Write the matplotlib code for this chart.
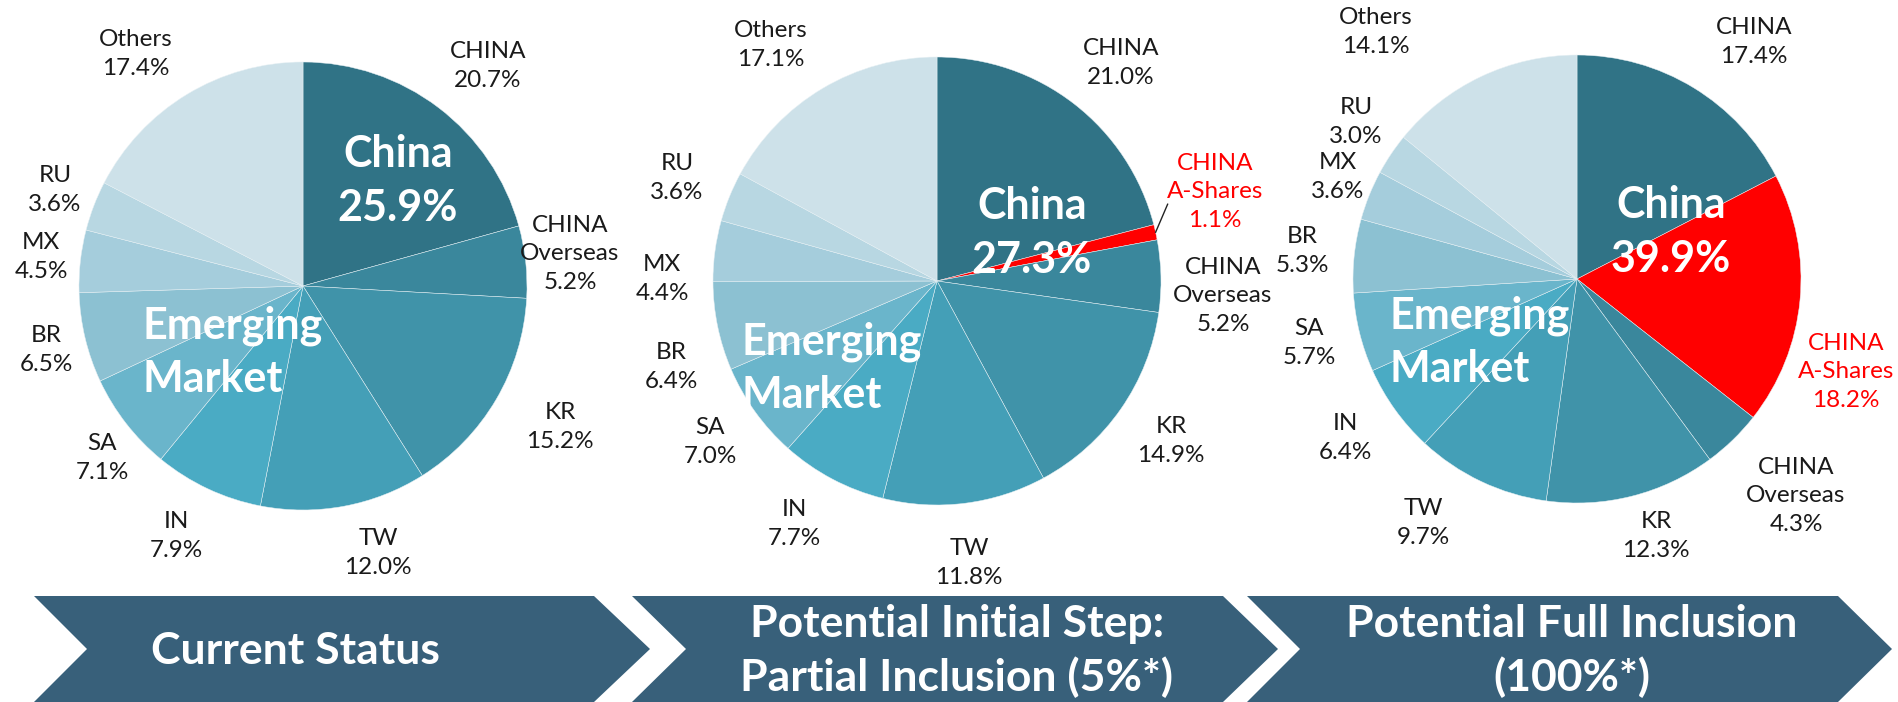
import matplotlib
matplotlib.use("Agg")
import matplotlib.pyplot as plt
from matplotlib.patches import Polygon
import numpy as np

plt.rcParams['font.family'] = ['Lato', 'DejaVu Sans']

W, H = 1899, 702

# ---------------- data ----------------
labels_1 = ["CHINA", "CHINA\nOverseas", "KR", "TW", "IN", "SA", "BR", "MX", "RU", "Others"]
values_1 = [20.7, 5.2, 15.2, 12.0, 7.9, 7.1, 6.5, 4.5, 3.6, 17.4]

labels_2 = ["CHINA", "CHINA\nA-Shares", "CHINA\nOverseas", "KR", "TW", "IN", "SA", "BR", "MX", "RU", "Others"]
values_2 = [21.0, 1.1, 5.2, 14.9, 11.8, 7.7, 7.0, 6.4, 4.4, 3.6, 17.1]

labels_3 = ["CHINA", "CHINA\nA-Shares", "CHINA\nOverseas", "KR", "TW", "IN", "SA", "BR", "MX", "RU", "Others"]
values_3 = [17.4, 18.2, 4.3, 12.3, 9.7, 6.4, 5.7, 5.3, 3.6, 3.0, 14.1]

china_totals = [25.9, 27.3, 39.9]
stage_titles = ["Current Status",
                "Potential Initial Step:\nPartial Inclusion (5%*)",
                "Potential Full Inclusion\n(100%*)"]

# ---------------- styles ----------------
base_colors = {
    "CHINA": "#307386",
    "CHINA\nA-Shares": "#ff0000",
    "CHINA\nOverseas": "#3a879c",
    "KR": "#4093a9",
    "TW": "#449fb7",
    "IN": "#4aabc4",
    "SA": "#6ab5cb",
    "BR": "#8cc1d2",
    "MX": "#a5cddc",
    "RU": "#b8d7e2",
    "Others": "#cde1e9",
}
RED = "#ff0000"
CHEVRON = "#38607a"

# layout (pixel coordinates, y measured from top)
centers = [(303, 286), (937, 281), (1577, 279)]
radius = 224
label_pos = [
    [(488, 66), (570, 254), (560, 427), (378, 553), (176, 536), (102, 458),
     (46, 350), (41, 257), (55, 190), (136, 54)],
    [(1121, 63), (1215, 192), (1223, 296), (1171, 441), (969, 563), (794, 524),
     (710, 442), (671, 367), (662, 279), (677, 178), (771, 45)],
    [(1754, 42), (1846, 372), (1796, 496), (1656, 536), (1423, 523), (1345, 438),
     (1309, 343), (1302, 251), (1338, 177), (1356, 122), (1376, 32)],
]
china_text_pos = [(398, 181), (1032, 233), (1671, 232)]
em_text_pos = [(143, 352), (742, 368), (1390, 342)]
chevrons = [(34, 87, 594, 650), (632, 686, 1223, 1278), (1247, 1300, 1838, 1892)]
chev_text_x = [295, 957, 1572]
chev_top, chev_bot = 596, 702


def Y(y):
    return H - y


fig = plt.figure(figsize=(W / 100, H / 100), dpi=100)
ax = fig.add_axes([0, 0, 1, 1])

all_labels = [labels_1, labels_2, labels_3]
all_values = [values_1, values_2, values_3]

for i in range(3):
    labs, vals = all_labels[i], all_values[i]
    cx, cy = centers[i]
    cols = [base_colors[l] for l in labs]
    wedges, _ = ax.pie(vals, colors=cols, startangle=90, counterclock=False,
                       center=(cx, Y(cy)), radius=radius, frame=True,
                       wedgeprops=dict(edgecolor="#e6f0f4", linewidth=0.35))
    for j, (l, v) in enumerate(zip(labs, vals)):
        lx, ly = label_pos[i][j]
        color = RED if "A-Shares" in l else "#1a1a1a"
        ax.text(lx, Y(ly), f"{l}\n{v:.1f}%", ha="center", va="center",
                fontsize=17.5, color=color, linespacing=1.42)
    # leader line for the small A-Shares slice
    if i == 1:
        w = wedges[1]
        mid = np.deg2rad((w.theta1 + w.theta2) / 2)
        x0 = cx + radius * np.cos(mid)
        y0 = Y(cy) + radius * np.sin(mid)
        ax.plot([x0, x0 + 12], [y0, y0 + 28], color="#222222", lw=1.0)
    tx, ty = china_text_pos[i]
    ax.text(tx, Y(ty), f"China\n{china_totals[i]:.1f}%", ha="center", va="center",
            fontsize=31, fontweight="bold", color="white", linespacing=1.4)
    ex, ey = em_text_pos[i]
    ax.text(ex, Y(ey), "Emerging\nMarket", ha="left", va="center",
            fontsize=31, fontweight="bold", color="white", linespacing=1.4)

# chevrons
for k, (xl, xn, xr, xt) in enumerate(chevrons):
    ym = (chev_top + chev_bot) / 2
    pts = [(xl, Y(chev_top)), (xr, Y(chev_top)), (xt, Y(ym)),
           (xr, Y(chev_bot)), (xl, Y(chev_bot)), (xn, Y(ym))]
    ax.add_patch(Polygon(pts, closed=True, facecolor=CHEVRON, edgecolor="none"))
    ax.text(chev_text_x[k], Y(ym + 2), stage_titles[k], ha="center", va="center",
            fontsize=32, fontweight="bold", color="white", linespacing=1.38)

ax.set_xlim(0, W)
ax.set_ylim(0, H)
ax.set_aspect("equal")
ax.axis("off")
fig.savefig("out.png", dpi=100)
